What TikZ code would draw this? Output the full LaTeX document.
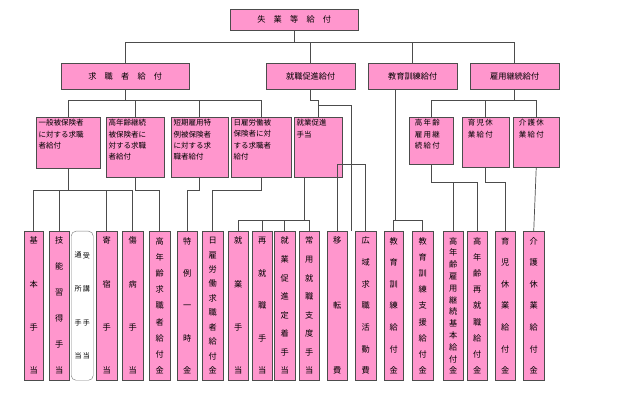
\documentclass[tikz,border=0pt]{standalone}
\usepackage{fontspec}
\newfontfamily\jp{Noto Sans CJK JP}
\usetikzlibrary{calc}
\definecolor{boxpink}{RGB}{255,150,205}
\newcommand{\tb}{\par\vfill}
\newcommand{\tate}[2][4.1cm]{\parbox[c][#1][s]{1em}{\centering #2}}

\begin{document}
\begin{tikzpicture}[x=0.03cm, y=-0.03cm,
  box/.style={draw=black!70, fill=boxpink, inner sep=0pt, anchor=north west, font=\jp\fontsize{7}{8.6}\selectfont},
  wh/.style 2 args={minimum width=#1*0.03cm, minimum height=#2*0.03cm},
  tx/.style={anchor=north west, align=left, inner sep=2pt, font=\jp\fontsize{6.4}{9.5}\selectfont},
  link/.style={draw=black!70, line width=0.6pt}]
\useasboundingbox (0,0) rectangle (620,404);
% top and second row
\node[box, wh={128}{21}] (shitsugyo) at (230,9) {失\quad 業\quad 等\quad 給\quad 付};
\node[box, wh={128}{26}] (kyushoku) at (61,63) {求\quad 職\quad 者\quad 給\quad 付};
\node[box, wh={89}{26}] (shushoku) at (266,63) {就職促進給付};
\node[box, wh={89}{26}] (kyoiku) at (368,63) {教育訓練給付};
\node[box, wh={89}{26}] (koyo) at (470,63) {雇用継続給付};
% third row
\node[box, wh={64}{51}] (ippan) at (36,117) {};
\node[tx] at (ippan.north west) {一般被保険者\\に対する求職\\者給付};
\node[box, wh={58}{60}] (konenkei) at (106,117) {};
\node[tx] at (konenkei.north west) {高年齢継続\\被保険者に\\対する求職\\者給付};
\node[box, wh={57}{60}] (tanki) at (171,117) {};
\node[tx] at (tanki.north west) {短期雇用特\\例被保険者\\に対する求\\職者給付};
\node[box, wh={60}{60}] (hiyatoi) at (231,117) {};
\node[tx] at (hiyatoi.north west) {日雇労働被\\保険者に対\\する求職者\\給付};
\node[box, wh={48}{60}] (sokushin) at (294,117) {};
\node[tx] at (sokushin.north west) {就業促進\\手当};
\node[box, wh={44}{47}] (konenkoyo) at (409,117) {};
\node[tx, align=center] at ([xshift=0.1cm]konenkoyo.north west) {高\,年\,齢\\雇\,用\,継\\続\,給\,付};
\node[box, wh={47}{50}] (ikuji) at (462,117) {};
\node[tx, align=center] at ([xshift=0.1cm]ikuji.north west) {育\,児\,休\\業\,給\,付};
\node[box, wh={46}{50}] (kaigo) at (513,117) {};
\node[tx, align=center] at ([xshift=0.1cm]kaigo.north west) {介\,護\,休\\業\,給\,付};
% bottom row
\node[box, wh={19}{149}] (kihon) at (24,231) {\tate{基\tb 本\tb 手\tb 当}};
\node[box, wh={20}{149}] (gino) at (49,231) {\tate{技\tb 能\tb 習\tb 得\tb 手\tb 当}};
\node[draw=black!50, rounded corners=4pt, inner sep=0pt, anchor=north west, wh={22}{149}, font=\jp\fontsize{6}{7}\selectfont] (juko) at (71,231)
  {\tate[3.2cm]{通\tb 所\tb 手\tb 当}\hspace{1pt}\tate[3.2cm]{受\tb 講\tb 手\tb 当}};
\node[box, wh={21}{149}] (kishuku) at (96,231) {\tate{寄\tb 宿\tb 手\tb 当}};
\node[box, wh={21}{149}] (shobyo) at (122,231) {\tate{傷\tb 病\tb 手\tb 当}};
\node[box, wh={21}{149}] (konenkyu) at (149,231) {\tate{高\tb 年\tb 齢\tb 求\tb 職\tb 者\tb 給\tb 付\tb 金}};
\node[box, wh={20}{149}] (tokurei) at (177,231) {\tate{特\tb 例\tb 一\tb 時\tb 金}};
\node[box, wh={21}{149}] (hiyatoikyu) at (202,231) {\tate{日\tb 雇\tb 労\tb 働\tb 求\tb 職\tb 者\tb 給\tb 付\tb 金}};
\node[box, wh={20}{149}] (shugyo) at (228,231) {\tate{就\tb 業\tb 手\tb 当}};
\node[box, wh={20}{149}] (saishu) at (252,231) {\tate{再\tb 就\tb 職\tb 手\tb 当}};
\node[box, wh={21}{149}] (teichaku) at (274,231) {\tate{就\tb 業\tb 促\tb 進\tb 定\tb 着\tb 手\tb 当}};
\node[box, wh={20}{149}] (joyo) at (299,231) {\tate{常\tb 用\tb 就\tb 職\tb 支\tb 度\tb 手\tb 当}};
\node[box, wh={20}{149}] (iten) at (327,231) {\tate{移\tb 転\tb 費}};
\node[box, wh={21}{149}] (koiki) at (355,231) {\tate{広\tb 域\tb 求\tb 職\tb 活\tb 動\tb 費}};
\node[box, wh={19}{149}] (kyokyu) at (384,231) {\tate{教\tb 育\tb 訓\tb 練\tb 給\tb 付\tb 金}};
\node[box, wh={21}{149}] (kyoshien) at (412,231) {\tate{教\tb 育\tb 訓\tb 練\tb 支\tb 援\tb 給\tb 付\tb 金}};
\node[box, wh={20}{149}] (konenkihon) at (443,231) {\tate{高\tb 年\tb 齢\tb 雇\tb 用\tb 継\tb 続\tb 基\tb 本\tb 給\tb 付\tb 金}};
\node[box, wh={20}{149}] (konensai) at (467,231) {\tate{高\tb 年\tb 齢\tb 再\tb 就\tb 職\tb 給\tb 付\tb 金}};
\node[box, wh={20}{149}] (ikujikyu) at (495,231) {\tate{育\tb 児\tb 休\tb 業\tb 給\tb 付\tb 金}};
\node[box, wh={21}{149}] (kaigokyu) at (523,231) {\tate{介\tb 護\tb 休\tb 業\tb 給\tb 付\tb 金}};
% levels of the bars
\coordinate (y42) at (0,42);
\coordinate (y100) at (0,100);
\coordinate (y105) at (0,105);
\coordinate (y164) at (0,164);
\coordinate (y182) at (0,182);
\coordinate (y190) at (0,190);
\coordinate (y220) at (0,220);
% connectors
\draw[link] (shitsugyo.south) -- (shitsugyo.south |- y42);
\draw[link] (kyushoku.north |- y42) -- (koyo.north |- y42);
\foreach \n in {kyushoku,shushoku,kyoiku,koyo}
  \draw[link] (\n.north) -- (\n.north |- y42);
\draw[link] (kyushoku.south) -- (kyushoku.south |- y100);
\draw[link] (ippan.north |- y100) -- (hiyatoi.north |- y100);
\foreach \n in {ippan,konenkei,tanki,hiyatoi}
  \draw[link] (\n.north) -- (\n.north |- y100);
\draw[link] (shushoku.south) -- (shushoku.south |- y100) -| (sokushin.north);
\draw[link] (sokushin.north |- y105) -| ($(iten.north)!0.5!(koiki.north)$ |- y164);
\draw[link] (iten.north) -- (iten.north |- y164) -- (koiki.north |- y164) -- (koiki.north);
\draw[link] (ippan.south) -- (ippan.south |- y190);
\draw[link] (kihon.north |- y190) -- (shobyo.north |- y190);
\foreach \n in {kihon,gino,kishuku,shobyo}
  \draw[link] (\n.north) -- (\n.north |- y190);
\draw[link] (konenkei.south) -- (konenkei.south |- y190) -| (konenkyu.north);
\draw[link] (tanki.south) -- (tanki.south |- y190) -| (tokurei.north);
\draw[link] (hiyatoi.south) -- (hiyatoi.south |- y190) -| (hiyatoikyu.north);
\draw[link] ([xshift=0.3cm]sokushin.south west) -- ([xshift=0.3cm]sokushin.south west |- y220);
\draw[link] (shugyo.north |- y220) -- (joyo.north |- y220);
\foreach \n in {shugyo,saishu,teichaku,joyo}
  \draw[link] (\n.north) -- (\n.north |- y220);
\draw[link] ([xshift=-0.53cm]kyoiku.south) -- ([xshift=-0.53cm]kyoiku.south |- y220);
\draw[link] (kyokyu.north) -- (kyokyu.north |- y220) -- (kyoshien.north |- y220) -- (kyoshien.north);
\draw[link] (koyo.south) -- (koyo.south |- y100);
\draw[link] (konenkoyo.north |- y100) -- (kaigo.north |- y100);
\foreach \n in {konenkoyo,ikuji,kaigo}
  \draw[link] (\n.north) -- (\n.north |- y100);
\draw[link] (konenkoyo.south) -- (konenkoyo.south |- y182) -| (konensai.north);
\draw[link] (konenkihon.north) -- (konenkihon.north |- y182);
\draw[link] (ikuji.south) -- (ikuji.south |- y182) -| (ikujikyu.north);
\draw[link] (kaigo.south) -- (kaigokyu.north);
\end{tikzpicture}
\end{document}
